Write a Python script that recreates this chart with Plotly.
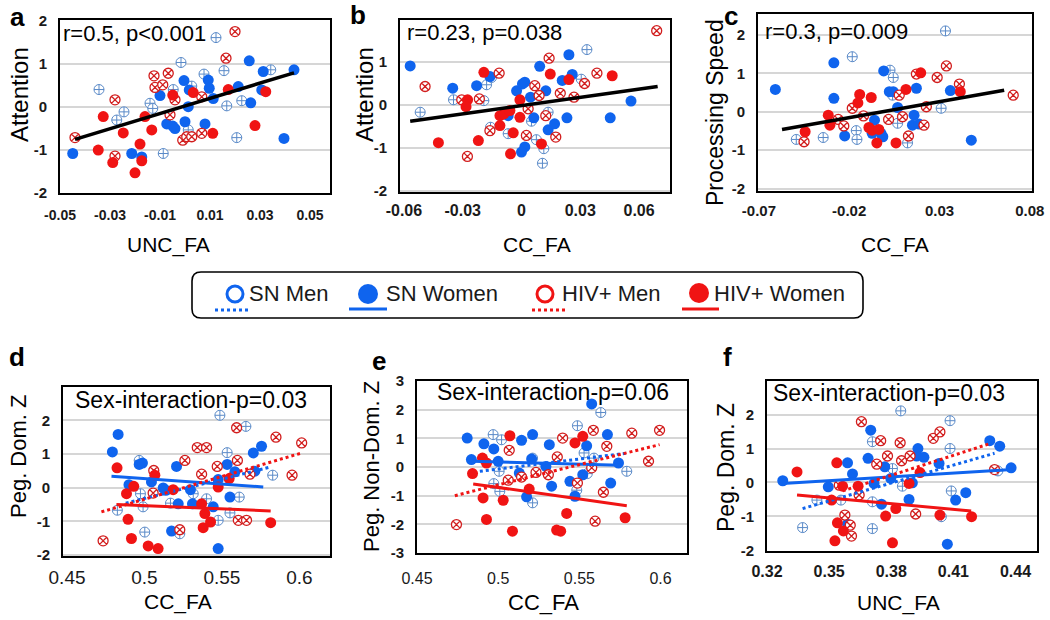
import plotly.graph_objects as go

W, H = 1050, 620
FONT = "Liberation Sans"
BLUE = "#0F64EE"
RED = "#F01414"
BLUE_OPEN = "#5A8AC8"
RED_OPEN = "#D21E1E"
GRID = "#D6D6D6"

# ---------------- Panel a : Attention vs UNC_FA ----------------
A_SNM_X = [-0.0344, -0.0273, -0.0244, -0.0140, -0.0129, -0.0087, -0.0047, -0.0016, 0.0013, 0.0027, 0.0076, 0.0124, 0.0156, 0.0167, 0.0207, 0.0227, 0.0343]
A_SNM_Y = [0.40, -0.31, -0.12, 0.08, -0.04, -1.09, 0.40, 1.03, -0.54, 0.48, 0.76, 1.61, 0.84, 0.02, -0.72, 0.14, 0.86]
A_SNW_X = [-0.0449, -0.0213, -0.0173, -0.0100, -0.0073, -0.0049, -0.0040, -0.0004, 0.0000, 0.0013, 0.0017, 0.0080, 0.0093, 0.0097, 0.0113, 0.0213, 0.0257, 0.0263, 0.0307, 0.0313, 0.0396, 0.0436]
A_SNW_Y = [-1.09, -1.09, -1.17, 0.26, -0.40, -0.45, -0.51, 0.61, -0.35, 0.00, 0.39, -0.40, 0.62, 0.43, 0.19, 0.47, 1.07, 0.09, 0.39, 0.82, -0.74, 0.86]
A_HIVM_X = [-0.0440, -0.0280, -0.0280, -0.0124, -0.0120, -0.0089, -0.0067, -0.0060, -0.0040, -0.0009, 0.0007, 0.0027, 0.0067, 0.0067, 0.0164, 0.0200]
A_HIVM_Y = [-0.72, 0.16, -1.15, 0.72, 0.45, 0.51, 0.78, -0.19, 0.16, -0.78, -0.70, -0.70, -0.62, 0.23, 1.13, 1.75]
A_HIVW_X = [-0.0347, -0.0327, -0.0289, -0.0247, -0.0200, -0.0180, -0.0173, -0.0160, -0.0133, -0.0049, 0.0033, 0.0111, 0.0173, 0.0280, 0.0323]
A_HIVW_Y = [-1.01, -0.23, -1.30, -0.61, -1.54, -0.87, -1.26, -0.23, -0.54, 0.27, 0.33, -0.62, 0.40, -0.44, 0.35]
A_FIT_X = [-0.0440, 0.0436]
A_FIT_Y = [-0.76, 0.79]

# ---------------- Panel b : Attention vs CC_FA ----------------
B_SNM_X = [-0.0517, -0.0347, -0.0192, -0.0178, -0.0153, -0.0158, -0.0068, 0.0051, 0.0076, 0.0114, 0.0107, 0.0136, 0.0305, 0.0334]
B_SNM_Y = [-0.17, 0.12, 0.10, 0.47, 0.64, -0.52, -0.67, -0.38, -0.81, -1.02, -1.36, -0.17, 0.60, 1.29]
B_SNW_X = [-0.0568, -0.0351, -0.0229, -0.0161, -0.0068, -0.0025, 0.0005, 0.0017, 0.0046, 0.0063, 0.0093, 0.0124, 0.0136, 0.0169, 0.0017, 0.0000, 0.0208, 0.0232, 0.0242, 0.0259, 0.0453, 0.0559]
B_SNW_Y = [0.91, 0.39, 0.45, 0.66, -0.25, 0.33, 0.49, 0.53, 0.18, -0.30, 0.90, 0.33, -0.58, -0.44, -0.98, -1.10, 0.57, -0.30, 1.17, 0.71, -0.30, 0.09]
B_HIVM_X = [-0.0492, -0.0276, -0.0305, -0.0215, -0.0161, -0.0114, 0.0025, 0.0034, 0.0068, 0.0090, 0.0124, 0.0141, 0.0175, 0.0198, 0.0268, 0.0322, 0.0385, 0.0690]
B_HIVM_Y = [0.43, -1.20, 0.12, 0.14, -0.60, 0.74, -0.71, -0.09, 0.45, 0.22, -0.25, 1.09, -0.75, 0.27, 0.18, 0.50, 0.74, 1.73]
B_HIVW_X = [-0.0424, -0.0275, -0.0283, -0.0220, -0.0192, -0.0110, -0.0110, -0.0090, -0.0059, -0.0042, -0.0008, -0.0008, -0.0056, 0.0102, 0.0147, 0.0242, 0.0463]
B_HIVW_Y = [-0.88, 0.12, -0.04, -0.83, 0.76, -0.25, -0.48, -0.21, -0.13, -0.65, 0.12, -0.29, -1.14, -0.91, 0.72, 0.59, 0.68]
B_FIT_X = [-0.0568, 0.0695]
B_FIT_Y = [-0.38, 0.43]

# ---------------- Panel c : Processing Speed vs CC_FA ----------------
C_SNM_X = [-0.0493, -0.0344, -0.0183, -0.0161, -0.0157, 0.0026, 0.0044, 0.0040, 0.0068, 0.0123, 0.0309, 0.0333]
C_SNM_Y = [-0.72, -0.67, 1.43, -0.49, -0.72, 1.08, 0.89, 0.43, -0.30, -0.81, 0.09, 2.10]
C_SNW_X = [-0.0609, -0.0285, -0.0285, -0.0225, -0.0009, 0.0022, 0.0044, 0.0068, -0.0060, -0.0073, -0.0024, -0.0014, 0.0159, 0.0150, 0.0187, 0.0172, 0.0360, 0.0476]
C_SNW_Y = [0.58, 1.27, 0.35, -0.63, 1.06, 0.52, 0.52, 0.11, -0.22, -0.56, -0.56, -0.65, -0.09, -0.35, -0.32, 0.61, 0.55, -0.74]
C_HIVM_X = [-0.0450, -0.0261, -0.0230, -0.0183, -0.0121, 0.0018, 0.0095, 0.0128, 0.0172, 0.0227, 0.0214, 0.0287, 0.0338, 0.0410, 0.0708, 0.0077]
C_HIVM_Y = [-0.78, -0.20, -0.37, 0.09, -0.11, -0.20, -0.13, -0.63, 0.98, 0.13, -0.35, 0.89, 1.19, 0.72, 0.43, 0.43]
C_HIVW_X = [-0.0444, -0.0316, -0.0307, -0.0142, -0.0152, -0.0078, -0.0091, -0.0073, -0.0036, -0.0047, 0.0059, 0.0114, 0.0196, 0.0415]
C_HIVW_Y = [-0.52, -0.09, -0.35, 0.45, 0.23, 0.37, -0.41, -0.48, -0.46, -0.81, -0.81, 0.58, 1.01, 0.52]
C_FIT_X = [-0.0572, 0.0658]
C_FIT_Y = [-0.46, 0.56]

# ---------------- Panel d : Peg. Dom. Z vs CC_FA ----------------
D_SNM_X = [0.4825, 0.4966, 0.4974, 0.4991, 0.5002, 0.5168, 0.5228, 0.5315, 0.5401, 0.5487, 0.5476, 0.5534, 0.5552, 0.5612, 0.5655, 0.5828]
D_SNM_Y = [-0.67, 0.81, -0.18, -0.57, -1.32, -0.46, -1.37, -0.18, -0.33, 2.15, -0.97, 1.04, -0.75, -0.28, 1.82, 0.37]
D_SNW_X = [0.4793, 0.4830, 0.4900, 0.4966, 0.4987, 0.5045, 0.5121, 0.5138, 0.5207, 0.5218, 0.5175, 0.5297, 0.5310, 0.5444, 0.5476, 0.5476, 0.5534, 0.5552, 0.5584, 0.5703, 0.5713, 0.5756]
D_SNW_Y = [1.06, 1.58, 0.09, 0.69, 0.73, 0.17, -0.01, -0.08, 0.63, -0.48, -1.29, -0.06, -0.48, -0.57, -1.81, 0.24, 0.69, -0.28, 0.47, 1.03, 0.49, 1.23]
D_HIVM_X = [0.4733, 0.5060, 0.5056, 0.5261, 0.5228, 0.5341, 0.5401, 0.5369, 0.5470, 0.5595, 0.5600, 0.5606, 0.5659, 0.5681, 0.5849, 0.5953, 0.6015]
D_HIVM_Y = [-1.58, 0.51, -0.16, 0.81, -1.25, 1.19, 1.19, 0.40, 0.63, 1.78, 0.81, -0.97, -0.97, 0.40, 1.50, 0.37, 1.33]
D_HIVW_X = [0.4823, 0.4884, 0.4931, 0.4894, 0.4916, 0.5024, 0.5088, 0.5067, 0.5185, 0.5369, 0.5390, 0.5379, 0.5427, 0.5476, 0.5547, 0.5815]
D_HIVW_Y = [0.59, -0.18, 0.04, -0.94, -1.51, -1.73, -1.81, 0.37, -0.06, -0.48, -0.77, -1.19, -1.02, 0.02, 0.27, -1.04]
D_FIT_SNM_X, D_FIT_SNM_Y = [0.4879, 0.5810], [-0.46, 0.61]
D_FIT_SNW_X, D_FIT_SNW_Y = [0.4787, 0.5767], [0.34, 0.02]
D_FIT_HIVM_X, D_FIT_HIVM_Y = [0.4722, 0.6015], [-0.72, 1.03]
D_FIT_HIVW_X, D_FIT_HIVW_Y = [0.4819, 0.5815], [-0.50, -0.69]

# ---------------- Panel e : Peg. Non-Dom. Z vs CC_FA ----------------
E_SNM_X = [0.4969, 0.5021, 0.5006, 0.4973, 0.5010, 0.5212, 0.5212, 0.5488, 0.5484, 0.5549, 0.5590, 0.5632, 0.5792, 0.5529]
E_SNM_Y = [1.13, 0.95, -0.15, -0.58, -0.85, -1.25, 0.31, 1.44, -0.81, -0.23, 0.31, 1.90, -0.15, 0.49]
E_SNW_X = [0.4809, 0.4835, 0.4912, 0.4973, 0.5000, 0.5144, 0.5130, 0.5175, 0.5212, 0.5206, 0.5315, 0.5329, 0.5442, 0.5473, 0.5521, 0.5545, 0.5576, 0.5673, 0.5693, 0.5741, 0.5294]
E_SNW_Y = [1.01, 0.26, 0.81, 0.63, 0.20, 0.93, -0.21, -1.04, 1.13, 0.28, 0.78, -0.67, -0.50, -1.02, -0.27, 0.74, 2.20, 1.13, -0.56, 0.14, 0.02]
E_HIVM_X = [0.4743, 0.5068, 0.5062, 0.5144, 0.5233, 0.5309, 0.5364, 0.5397, 0.5488, 0.5576, 0.5586, 0.5597, 0.5648, 0.5669, 0.5823, 0.5926, 0.5994]
E_HIVM_Y = [-2.01, 0.58, -0.46, -0.35, -0.19, -0.27, 0.35, 1.01, -0.56, -0.03, 1.28, -1.89, -0.88, 0.72, 1.18, 0.20, 1.28]
E_HIVW_X = [0.4842, 0.4903, 0.4928, 0.4907, 0.4928, 0.5031, 0.5072, 0.5088, 0.5191, 0.5360, 0.5385, 0.5422, 0.5473, 0.5521, 0.5782]
E_HIVW_Y = [-0.23, 0.31, 0.14, -1.08, -1.83, -1.16, 1.09, -2.24, -0.77, -2.20, -2.24, -1.62, 0.84, 1.07, -1.77]
E_FIT_SNM_X, E_FIT_SNM_Y = [0.4887, 0.5802], [-0.15, 0.49]
E_FIT_SNW_X, E_FIT_SNW_Y = [0.4835, 0.5751], [0.20, 0.06]
E_FIT_HIVM_X, E_FIT_HIVM_Y = [0.4733, 0.5994], [-1.00, 0.78]
E_FIT_HIVW_X, E_FIT_HIVW_Y = [0.4846, 0.5792], [-0.59, -1.35]

# ---------------- Panel f : Peg. Dom. Z vs UNC_FA ----------------
F_SNM_X = [0.3372, 0.3441, 0.3557, 0.3709, 0.3709, 0.3709, 0.3806, 0.3846, 0.3854, 0.4042, 0.4084, 0.4084, 0.4090, 0.4315]
F_SNM_Y = [-1.33, -0.52, -0.52, -0.57, 1.20, -1.36, 0.41, 2.11, -0.11, -1.01, 1.82, 1.00, -0.25, 0.34]
F_SNW_X = [0.3276, 0.3496, 0.3589, 0.3613, 0.3589, 0.3688, 0.3701, 0.3769, 0.3753, 0.3717, 0.3798, 0.3886, 0.3902, 0.3929, 0.3923, 0.3958, 0.4031, 0.4071, 0.4111, 0.4160, 0.4276, 0.4324, 0.4379]
F_SNW_Y = [0.05, -0.13, 0.58, 0.25, -1.23, 0.71, 1.54, 0.46, -0.64, -0.03, 0.12, -0.50, -0.01, 1.00, 0.78, 0.74, 0.56, -1.82, -0.52, -0.30, 1.23, 1.07, 0.43]
F_HIVM_X = [0.3549, 0.3576, 0.3602, 0.3608, 0.3645, 0.3656, 0.3730, 0.3749, 0.3782, 0.3843, 0.3850, 0.3891, 0.3918, 0.4003, 0.4035, 0.4299]
F_HIVM_Y = [-0.08, -0.96, -1.26, -1.58, -0.37, 1.79, 0.54, 1.23, 0.78, 1.17, 0.64, 0.78, -0.93, 1.30, 1.49, 0.38]
F_HIVW_X = [0.3345, 0.3512, 0.3537, 0.3528, 0.3540, 0.3569, 0.3565, 0.3640, 0.3773, 0.3806, 0.3822, 0.3886, 0.3939, 0.4035, 0.4188]
F_HIVW_Y = [0.31, -0.52, 0.58, -1.72, -1.19, -1.43, -0.11, -0.11, -0.99, -1.78, -0.77, -0.03, 0.29, -0.96, -1.01]
F_FIT_SNM_X, F_FIT_SNM_Y = [0.3372, 0.4299], [-0.77, 0.86]
F_FIT_SNW_X, F_FIT_SNW_Y = [0.3276, 0.4384], [-0.03, 0.38]
F_FIT_HIVM_X, F_FIT_HIVM_Y = [0.3565, 0.4280], [-0.25, 1.15]
F_FIT_HIVW_X, F_FIT_HIVW_Y = [0.3345, 0.4186], [-0.37, -0.84]

# ---------------- tick labels / texts ----------------
A_XTICKS = [-0.05, -0.03, -0.01, 0.01, 0.03, 0.05]
A_XTICKTEXT = ["-0.05", "-0.03", "-0.01", "0.01", "0.03", "0.05"]
B_XTICKS = [-0.06, -0.03, 0.0, 0.03, 0.06]
B_XTICKTEXT = ["-0.06", "-0.03", "0", "0.03", "0.06"]
C_XTICKS = [-0.07, -0.02, 0.03, 0.08]
C_XTICKTEXT = ["-0.07", "-0.02", "0.03", "0.08"]
DE_XTICKS = [0.45, 0.5, 0.55, 0.6]
DE_XTICKTEXT = ["0.45", "0.5", "0.55", "0.6"]
F_XTICKS = [0.32, 0.35, 0.38, 0.41, 0.44]
F_XTICKTEXT = ["0.32", "0.35", "0.38", "0.41", "0.44"]
Y_TICKS_4 = [-2, -1, 0, 1, 2]
Y_TICKS_5 = [-2, -1, 0, 1, 2, 3]
Y_TICKS_6 = [-3, -2, -1, 0, 1, 2, 3]

GROUP_NAMES = ["SN Men", "SN Women", "HIV+ Men", "HIV+ Women"]


def px(x):
    return x / W


def py(y):
    return 1 - y / H


def ytext(vals):
    return [("-" + str(abs(v))) if v < 0 else str(v) for v in vals]


panels = [
    dict(letter="a", letter_pos=(17, 17),
         groups=[(A_SNM_X, A_SNM_Y), (A_SNW_X, A_SNW_Y), (A_HIVM_X, A_HIVM_Y), (A_HIVW_X, A_HIVW_Y)],
         fits=[(A_FIT_X, A_FIT_Y, "black", "solid")],
         box=(60, 20, 330, 193), xr=[-0.05, 0.058], yr=[-2.01, 2.02],
         xt=(A_XTICKS, A_XTICKTEXT), yt=Y_TICKS_4, xfs=14, xbold=True, xso=8,
         stat="r=0.5, p<0.001", stat_pos=(61, 33), sfs=22,
         xtitle="UNC_FA", xtitle_pos=(168, 245), xtfs=21,
         ytitle="Attention", ytitle_pos=(20, 95), ytfs=24),
    dict(letter="b", letter_pos=(358, 15),
         groups=[(B_SNM_X, B_SNM_Y), (B_SNW_X, B_SNW_Y), (B_HIVM_X, B_HIVM_Y), (B_HIVW_X, B_HIVW_Y)],
         fits=[(B_FIT_X, B_FIT_Y, "black", "solid")],
         box=(400, 20, 670, 192), xr=[-0.062, 0.0758], yr=[-2.03, 1.98],
         xt=(B_XTICKS, B_XTICKTEXT), yt=Y_TICKS_4, xfs=16, xbold=True, xso=3,
         stat="r=0.23, p=0.038", stat_pos=(405, 32), sfs=22,
         xtitle="CC_FA", xtitle_pos=(537, 245), xtfs=21,
         ytitle="Attention", ytitle_pos=(365, 95), ytfs=24),
    dict(letter="c", letter_pos=(731, 16),
         groups=[(C_SNM_X, C_SNM_Y), (C_SNW_X, C_SNW_Y), (C_HIVM_X, C_HIVM_Y), (C_HIVW_X, C_HIVW_Y)],
         fits=[(C_FIT_X, C_FIT_Y, "black", "solid")],
         box=(758, 14, 1032, 191), xr=[-0.0705, 0.0812], yr=[-2.06, 2.54],
         xt=(C_XTICKS, C_XTICKTEXT), yt=Y_TICKS_4, xfs=15, xbold=True, xso=5,
         stat="r=0.3, p=0.009", stat_pos=(763, 31), sfs=22,
         xtitle="CC_FA", xtitle_pos=(895, 245), xtfs=21,
         ytitle="Processing Speed", ytitle_pos=(715, 113), ytfs=23),
    dict(letter="d", letter_pos=(17, 357),
         groups=[(D_SNM_X, D_SNM_Y), (D_SNW_X, D_SNW_Y), (D_HIVM_X, D_HIVM_Y), (D_HIVW_X, D_HIVW_Y)],
         fits=[(D_FIT_SNM_X, D_FIT_SNM_Y, BLUE, "dot"), (D_FIT_SNW_X, D_FIT_SNW_Y, BLUE, "solid"),
               (D_FIT_HIVM_X, D_FIT_HIVM_Y, RED, "dot"), (D_FIT_HIVW_X, D_FIT_HIVW_Y, RED, "solid")],
         box=(63, 387, 330, 556), xr=[0.4474, 0.6198], yr=[-2.03, 2.99],
         xt=(DE_XTICKS, DE_XTICKTEXT), yt=Y_TICKS_5, xfs=19, xbold=False, xso=3,
         stat="Sex-interaction-p=0.03", stat_pos=(73, 400), sfs=23,
         xtitle="CC_FA", xtitle_pos=(178, 602), xtfs=21,
         ytitle="Peg. Dom. Z", ytitle_pos=(18, 457), ytfs=22),
    dict(letter="e", letter_pos=(379, 361),
         groups=[(E_SNM_X, E_SNM_Y), (E_SNW_X, E_SNW_Y), (E_HIVM_X, E_HIVM_Y), (E_HIVW_X, E_HIVW_Y)],
         fits=[(E_FIT_SNM_X, E_FIT_SNM_Y, BLUE, "dot"), (E_FIT_SNW_X, E_FIT_SNW_Y, BLUE, "solid"),
               (E_FIT_HIVM_X, E_FIT_HIVM_Y, RED, "dot"), (E_FIT_HIVW_X, E_FIT_HIVW_Y, RED, "solid")],
         box=(417, 381, 687, 553), xr=[0.45, 0.6163], yr=[-3.0, 3.0],
         xt=(DE_XTICKS, DE_XTICKTEXT), yt=Y_TICKS_6, xfs=16, xbold=False, xso=10,
         stat="Sex-interaction-p=0.06", stat_pos=(435, 392), sfs=23,
         xtitle="CC_FA", xtitle_pos=(543, 602), xtfs=22,
         ytitle="Peg. Non-Dom. Z", ytitle_pos=(372, 467), ytfs=22),
    dict(letter="f", letter_pos=(727, 357),
         groups=[(F_SNM_X, F_SNM_Y), (F_SNW_X, F_SNW_Y), (F_HIVM_X, F_HIVM_Y), (F_HIVW_X, F_HIVW_Y)],
         fits=[(F_FIT_SNM_X, F_FIT_SNM_Y, BLUE, "dot"), (F_FIT_SNW_X, F_FIT_SNW_Y, BLUE, "solid"),
               (F_FIT_HIVM_X, F_FIT_HIVM_Y, RED, "dot"), (F_FIT_HIVW_X, F_FIT_HIVW_Y, RED, "solid")],
         box=(767, 381, 1037, 551), xr=[0.32, 0.4504], yr=[-2.02, 2.99],
         xt=(F_XTICKS, F_XTICKTEXT), yt=Y_TICKS_5, xfs=16, xbold=True, xso=5,
         stat="Sex-interaction-p=0.03", stat_pos=(771, 393), sfs=23,
         xtitle="UNC_FA", xtitle_pos=(898, 603), xtfs=21,
         ytitle="Peg. Dom. Z", ytitle_pos=(726, 468), ytfs=23),
]

marker_styles = [
    dict(symbol="circle-cross", size=10, color="white", line=dict(color=BLUE_OPEN, width=1)),
    dict(symbol="circle", size=11, color=BLUE, line=dict(width=0)),
    dict(symbol="circle-x", size=10, color="white", line=dict(color=RED_OPEN, width=1.3)),
    dict(symbol="circle", size=11, color=RED, line=dict(width=0)),
]

fig = go.Figure()
annotations = []
shapes = []
layout_axes = {}

for i, p in enumerate(panels, start=1):
    sfx = "" if i == 1 else str(i)
    xa, ya = "x" + sfx, "y" + sfx
    for (gx, gy), ms, name in zip(p["groups"], marker_styles, GROUP_NAMES):
        fig.add_trace(go.Scatter(x=gx, y=gy, mode="markers", marker=ms, name=name,
                                 xaxis=xa, yaxis=ya, showlegend=False, hoverinfo="x+y"))
    for fx, fy, col, dash in p["fits"]:
        wd = 3.5 if col == "black" else 3
        fig.add_trace(go.Scatter(x=fx, y=fy, mode="lines",
                                 line=dict(color=col, width=wd, dash=dash),
                                 xaxis=xa, yaxis=ya, showlegend=False, hoverinfo="skip"))
    x0, y0, x1, y1 = p["box"]
    layout_axes["xaxis" + sfx] = dict(
        domain=[px(x0), px(x1)], range=p["xr"], anchor=ya,
        tickmode="array", tickvals=p["xt"][0], ticktext=p["xt"][1],
        showgrid=False, zeroline=False, showline=True, mirror=True,
        linecolor="black", linewidth=2, ticks="", ticklabelstandoff=p["xso"],
        automargin=False,
        tickfont=dict(family=FONT, size=p["xfs"], color="#1a1a1a",
                      weight="bold" if p["xbold"] else "normal"),
        fixedrange=True)
    layout_axes["yaxis" + sfx] = dict(
        domain=[py(y1), py(y0)], range=p["yr"], anchor=xa,
        tickmode="array", tickvals=p["yt"], ticktext=ytext(p["yt"]),
        showgrid=True, gridcolor=GRID, gridwidth=1.5, zeroline=False,
        showline=True, mirror=True, linecolor="black", linewidth=2,
        ticks="", ticklabelstandoff=8, automargin=False,
        tickfont=dict(family=FONT, size=15, color="#1a1a1a", weight="bold"),
        fixedrange=True)
    lx, ly = p["letter_pos"]
    annotations.append(dict(text=p["letter"], x=px(lx), y=py(ly), xref="paper", yref="paper",
                            showarrow=False, xanchor="center", yanchor="middle",
                            font=dict(family=FONT, size=26, color="black", weight="bold")))
    sx, sy = p["stat_pos"]
    annotations.append(dict(text=p["stat"], x=px(sx), y=py(sy), xref="paper", yref="paper",
                            showarrow=False, xanchor="left", yanchor="middle",
                            font=dict(family=FONT, size=p["sfs"], color="black")))
    tx, ty = p["xtitle_pos"]
    annotations.append(dict(text=p["xtitle"], x=px(tx), y=py(ty), xref="paper", yref="paper",
                            showarrow=False, xanchor="center", yanchor="middle",
                            font=dict(family=FONT, size=p["xtfs"], color="black")))
    tx, ty = p["ytitle_pos"]
    annotations.append(dict(text=p["ytitle"], x=px(tx), y=py(ty), xref="paper", yref="paper",
                            showarrow=False, xanchor="center", yanchor="middle", textangle=-90,
                            font=dict(family=FONT, size=p["ytfs"], color="black")))

# ---------------- legend (drawn as shapes + text) ----------------
LX0, LY0, LX1, LY1, RAD = 192, 272, 863, 318, 9
rx, ry = RAD / W, RAD / H
a0, b0, a1, b1 = px(LX0), py(LY0), px(LX1), py(LY1)
path = (f"M {a0+rx},{b0} L {a1-rx},{b0} Q {a1},{b0} {a1},{b0-ry} "
        f"L {a1},{b1+ry} Q {a1},{b1} {a1-rx},{b1} L {a0+rx},{b1} "
        f"Q {a0},{b1} {a0},{b1+ry} L {a0},{b0-ry} Q {a0},{b0} {a0+rx},{b0} Z")
shapes.append(dict(type="path", path=path, xref="paper", yref="paper",
                   line=dict(color="black", width=1.6), fillcolor="white", layer="below"))

legend_items = [
    # circle cx, cy, r, filled, color, line x0, x1, ly, dash, text x
    (235, 294, 8, False, BLUE, 215, 251, 310, "dot", 247),
    (368, 294, 10, True, BLUE, 349, 387, 309, "solid", 384),
    (545, 294, 8, False, RED, 532, 568, 310, "dot", 560),
    (699, 293, 10, True, RED, 682, 719, 309, "solid", 712),
]
for (cx, cy, r, filled, col, lx0, lx1, lyy, dash, txx), name in zip(legend_items, GROUP_NAMES):
    shapes.append(dict(type="circle", xref="paper", yref="paper",
                       x0=px(cx - r), x1=px(cx + r), y0=py(cy + r), y1=py(cy - r),
                       line=dict(color=col, width=0 if filled else 3),
                       fillcolor=col if filled else "rgba(0,0,0,0)"))
    shapes.append(dict(type="line", xref="paper", yref="paper",
                       x0=px(lx0), x1=px(lx1), y0=py(lyy), y1=py(lyy),
                       line=dict(color=col, width=3, dash=dash)))
    annotations.append(dict(text=name, x=px(txx), y=py(294), xref="paper", yref="paper",
                            showarrow=False, xanchor="left", yanchor="middle",
                            font=dict(family=FONT, size=22, color="#1a1a1a")))

fig.update_layout(
    width=W, height=H, margin=dict(l=0, r=0, t=0, b=0, pad=0, autoexpand=False),
    paper_bgcolor="white", plot_bgcolor="white",
    showlegend=False, annotations=annotations, shapes=shapes,
    font=dict(family=FONT, color="black"),
    **layout_axes,
)

fig.write_html("out.html", config={"displayModeBar": False},
               post_script="document.body.style.margin='0';document.body.style.overflow='hidden';")
